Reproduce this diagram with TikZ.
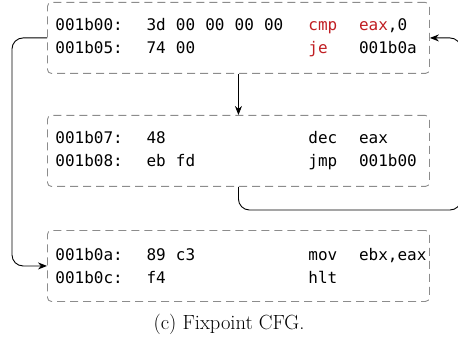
\documentclass[tikz,border=0pt]{standalone}
\usepackage{fontspec}
\setmonofont{DejaVu Sans Mono}
\usepackage{tikz}
\usetikzlibrary{arrows.meta}

\definecolor{asmred}{RGB}{192,30,35}
\newlength{\cw}
\setlength{\cw}{10.12pt}
\newcommand{\hl}[1]{\textcolor{asmred}{#1}}
\newcommand{\sk}{\hspace*{\cw}}
\newcommand{\cell}[2]{\makebox[#1\cw][l]{#2}}

\begin{document}
\begin{tikzpicture}[x=1pt,y=-1pt,
    blk/.style={draw=black!45, dash pattern=on 8pt off 5pt, line width=0.9pt,
        rounded corners=4pt, minimum width=382pt, minimum height=71pt,
        inner sep=8pt, text width=366pt, align=left, anchor=north west,
        font=\fontsize{16}{23}\ttfamily},
    flow/.style={-{Stealth[length=9pt,width=7pt]}, line width=0.9pt,
        rounded corners=11pt}]

\useasboundingbox (0,0) rectangle (458,350);

% Blocks
\node[blk] (b1) at (47,2) {%
    \cell{9}{001b00:}\cell{16}{3d\sk00\sk00\sk00\sk00}\cell{5}{\hl{cmp}}\hl{eax},0\\
    \cell{9}{001b05:}\cell{16}{74\sk00}\cell{5}{\hl{je}}001b0a};
\node[blk] (b2) at (47,115) {%
    \cell{9}{001b07:}\cell{16}{48}\cell{5}{dec}eax\\
    \cell{9}{001b08:}\cell{16}{eb\sk fd}\cell{5}{jmp}001b00};
\node[blk] (b3) at (47,230) {%
    \cell{9}{001b0a:}\cell{16}{89\sk c3}\cell{5}{mov}ebx,eax\\
    \cell{9}{001b0c:}\cell{16}{f4}hlt};

% Edges
\coordinate (back) at (461,210);
\draw[flow] (b1.south) -- (b2.north);
\draw[flow] (b1.west) -- ++(-35,0) |- (b3.west);
\draw[flow] (b2.south) |- (back) |- (b1.east);

% Caption
\node[font=\fontsize{20.5}{24}\selectfont] (cap) at (229,324) {(c) Fixpoint CFG.};

\end{tikzpicture}
\end{document}
